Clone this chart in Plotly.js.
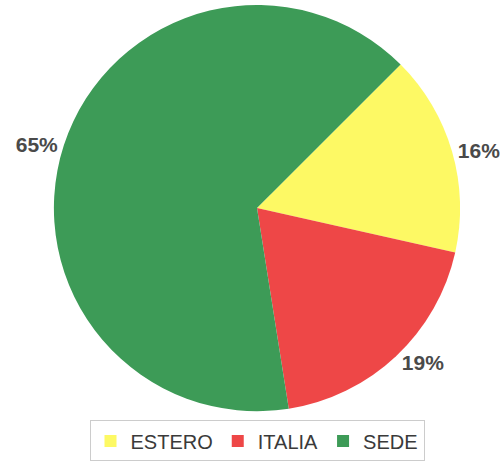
<!DOCTYPE html>
<html>
<head>
<meta charset="utf-8">
<script src="https://cdn.plot.ly/plotly-3.0.1.min.js"></script>
<style>html,body{margin:0;padding:0;background:#fff;}#chart{width:503px;height:466px;}</style>
</head>
<body>
<div id="chart"></div>
<script>
const labels = ["ESTERO", "ITALIA", "SEDE"];
const values = [16, 19, 65];
const colors = ["#fdf964", "#ee4747", "#3d9b57"];

const data = [{
  type: "pie",
  labels: labels,
  values: values,
  sort: false,
  direction: "clockwise",
  rotation: 45,
  domain: {x: [0, 1], y: [0.0487, 1]},
  marker: {colors: colors, line: {width: 0}},
  textinfo: "percent",
  textposition: "outside",
  texttemplate: "%{percent:.0%}",
  outsidetextfont: {family: "Liberation Sans, Arial, sans-serif", size: 21, color: "#4a4a4a", weight: "bold"},
  hoverinfo: "none"
}];

const layout = {
  width: 503,
  height: 466,
  margin: {l: 52, r: 41, t: 5, b: 30},
  paper_bgcolor: "#ffffff",
  showlegend: true,
  legend: {
    orientation: "h",
    x: 0.5, xanchor: "center",
    y: 0.027, yanchor: "top",
    bordercolor: "#cccccc",
    borderwidth: 1,
    font: {family: "Liberation Sans, Arial, sans-serif", size: 20, color: "#3a3a3a"},
    itemwidth: 30,
    tracegroupgap: 0
  }
};

Plotly.newPlot("chart", data, layout, {displayModeBar: false, staticPlot: true});
</script>
</body>
</html>
